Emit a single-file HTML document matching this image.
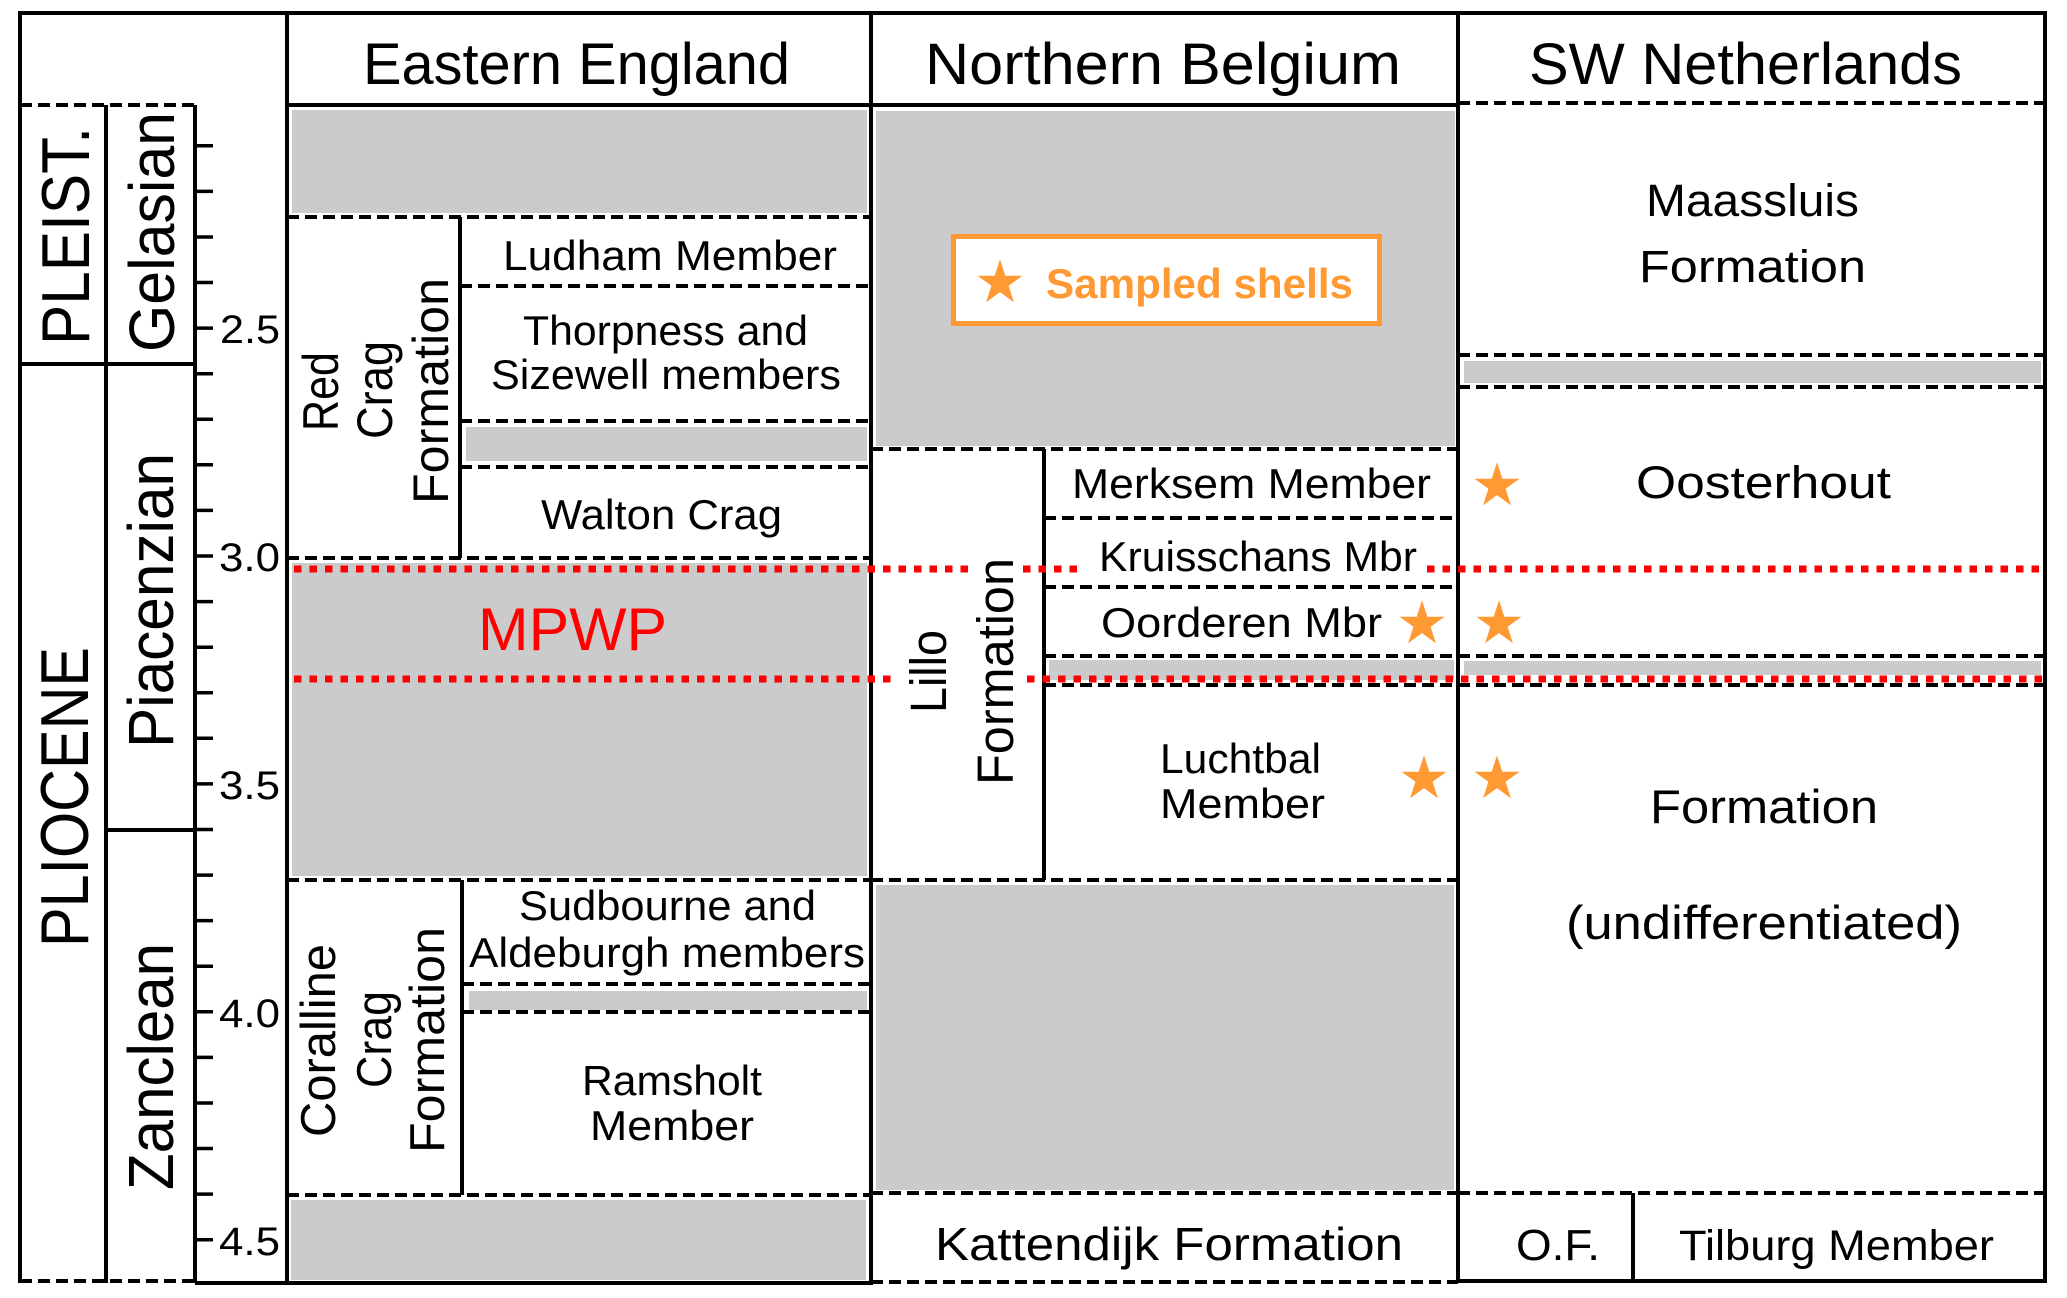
<!DOCTYPE html>
<html>
<head>
<meta charset="utf-8">
<style>
html,body{margin:0;padding:0;background:#fff;}
svg{display:block;}
text{font-family:"Liberation Sans",Arial,sans-serif;fill:#000;}
</style>
</head>
<body>
<svg width="2067" height="1298" viewBox="0 0 2067 1298" xmlns="http://www.w3.org/2000/svg">
<rect x="0" y="0" width="2067" height="1298" fill="#fff"/>

<!-- grey boxes -->
<g fill="#cbcbcb">
<rect x="292" y="110" width="575" height="103"/>
<rect x="466" y="427" width="401" height="34"/>
<rect x="292" y="563" width="575" height="313"/>
<rect x="469" y="991" width="398" height="19"/>
<rect x="291" y="1200" width="575" height="80"/>
<rect x="876" y="111" width="579" height="335"/>
<rect x="1049" y="660" width="405" height="20"/>
<rect x="876" y="885" width="578" height="305"/>
<rect x="1464" y="361" width="577" height="22"/>
<rect x="1464" y="661" width="577" height="14"/>
</g>

<!-- dashed lines -->
<g stroke="#000" stroke-width="4" stroke-dasharray="12 6" fill="none">
<path d="M20,105H195"/>
<path d="M20,1281H195"/>
<path d="M1458,103H2045"/>
<path d="M287,217H871"/>
<path d="M460,286H869"/>
<path d="M460,421H869"/>
<path d="M460,467H869"/>
<path d="M287,558H871"/>
<path d="M287,880H871"/>
<path d="M462,984H869"/>
<path d="M462,1012H869"/>
<path d="M287,1195H871"/>
<path d="M871,449H1458"/>
<path d="M1044,518H1456"/>
<path d="M1044,587H1456"/>
<path d="M1044,656H1458"/>
<path d="M1044,685H1458"/>
<path d="M871,880H1458"/>
<path d="M871,1193H1458"/>
<path d="M871,1282H1458"/>
<path d="M1458,355H2045"/>
<path d="M1458,387H2045"/>
<path d="M1458,656H2045"/>
<path d="M1458,685H2045"/>
<path d="M1458,1193H2045"/>
</g>

<!-- solid lines -->
<g stroke="#000" stroke-width="4" fill="none">
<path d="M18,13H2047"/>
<path d="M20,13V1283"/>
<path d="M106,105V1283"/>
<path d="M195,105V1283"/>
<path d="M287,13V1285"/>
<path d="M871,13V1285"/>
<path d="M1458,13V1283"/>
<path d="M2045,13V1283"/>
<path d="M287,105H1458"/>
<path d="M20,364H195"/>
<path d="M106,830H195"/>
<path d="M195,1283H871"/>
<path d="M1458,1281H2047"/>
<path d="M460,217V558"/>
<path d="M462,880V1195"/>
<path d="M1044,449V880"/>
<path d="M1633,1193V1283"/>
</g>

<!-- ticks -->
<g stroke="#000" stroke-width="3.5">
<path d="M195,145.8H213M195,191.4H213M195,237H213M195,282.5H213M195,328.1H213M195,373.7H213M195,419.3H213M195,464.8H213M195,510.4H213M195,556H213M195,601.6H213M195,647.2H213M195,692.7H213M195,738.3H213M195,783.9H213M195,829.5H213M195,875.1H213M195,920.6H213M195,966.2H213M195,1011.8H213M195,1057.4H213M195,1103H213M195,1148.5H213M195,1194.1H213M195,1239.7H213"/>
</g>

<!-- red dotted MPWP lines -->
<g stroke="#ff0000" stroke-width="7" stroke-dasharray="7.5 8" fill="none">
<path d="M294,569H974"/>
<path d="M1023,569H1082"/>
<path d="M1427,569H2045"/>
<path d="M294,679H893"/>
<path d="M1027,679H2045"/>
</g>

<!-- scale labels -->
<g font-size="40">
<text x="220" y="343" textLength="60" lengthAdjust="spacingAndGlyphs">2.5</text>
<text x="219" y="571" textLength="61" lengthAdjust="spacingAndGlyphs">3.0</text>
<text x="219" y="799" textLength="61" lengthAdjust="spacingAndGlyphs">3.5</text>
<text x="219" y="1027" textLength="61" lengthAdjust="spacingAndGlyphs">4.0</text>
<text x="219" y="1255" textLength="61" lengthAdjust="spacingAndGlyphs">4.5</text>
</g>

<!-- epoch / stage rotated labels -->
<text transform="translate(89,345) rotate(-90)" font-size="68" textLength="218" lengthAdjust="spacingAndGlyphs">PLEIST.</text>
<text transform="translate(88,947) rotate(-90)" font-size="68" textLength="300" lengthAdjust="spacingAndGlyphs">PLIOCENE</text>
<text transform="translate(174,352) rotate(-90)" font-size="64" textLength="240" lengthAdjust="spacingAndGlyphs">Gelasian</text>
<text transform="translate(173,748) rotate(-90)" font-size="64" textLength="295" lengthAdjust="spacingAndGlyphs">Piacenzian</text>
<text transform="translate(173,1190) rotate(-90)" font-size="64" textLength="247" lengthAdjust="spacingAndGlyphs">Zanclean</text>

<!-- headers -->
<g font-size="58">
<text x="363" y="84" textLength="427" lengthAdjust="spacingAndGlyphs">Eastern England</text>
<text x="925" y="84" textLength="476" lengthAdjust="spacingAndGlyphs">Northern Belgium</text>
<text x="1529" y="84" textLength="433" lengthAdjust="spacingAndGlyphs">SW Netherlands</text>
</g>

<!-- Eastern England -->
<g font-size="42">
<text x="503" y="270" textLength="334" lengthAdjust="spacingAndGlyphs">Ludham Member</text>
<text x="523" y="345" textLength="285" lengthAdjust="spacingAndGlyphs">Thorpness and</text>
<text x="491" y="389" textLength="350" lengthAdjust="spacingAndGlyphs">Sizewell members</text>
<text x="541" y="529" textLength="241" lengthAdjust="spacingAndGlyphs">Walton Crag</text>
<text x="519" y="920" textLength="297" lengthAdjust="spacingAndGlyphs">Sudbourne and</text>
<text x="469" y="967" textLength="396" lengthAdjust="spacingAndGlyphs">Aldeburgh members</text>
<text x="582" y="1095" textLength="180" lengthAdjust="spacingAndGlyphs">Ramsholt</text>
<text x="590" y="1140" textLength="164" lengthAdjust="spacingAndGlyphs">Member</text>
</g>
<text x="478" y="650" font-size="60" textLength="189" lengthAdjust="spacingAndGlyphs" style="fill:#ff0000">MPWP</text>

<text transform="translate(338,431) rotate(-90)" font-size="50" textLength="79" lengthAdjust="spacingAndGlyphs">Red</text>
<text transform="translate(392,439) rotate(-90)" font-size="50" textLength="98" lengthAdjust="spacingAndGlyphs">Crag</text>
<text transform="translate(448,504) rotate(-90)" font-size="50" textLength="226" lengthAdjust="spacingAndGlyphs">Formation</text>

<text transform="translate(335,1137) rotate(-90)" font-size="49" textLength="193" lengthAdjust="spacingAndGlyphs">Coralline</text>
<text transform="translate(391,1088) rotate(-90)" font-size="49" textLength="97" lengthAdjust="spacingAndGlyphs">Crag</text>
<text transform="translate(444,1153) rotate(-90)" font-size="49" textLength="226" lengthAdjust="spacingAndGlyphs">Formation</text>

<!-- Northern Belgium -->
<rect x="953.5" y="236.5" width="426" height="87" fill="#fff" stroke="#ff9933" stroke-width="5"/>
<polygon fill="#ff9933" transform="translate(1000,283)" points="0,-23.7 5.3,-7.3 22.5,-7.3 8.6,2.8 13.9,19.2 0,9.1 -13.9,19.2 -8.6,2.8 -22.5,-7.3 -5.3,-7.3"/>
<text x="1046" y="298" font-size="42" font-weight="bold" textLength="307" lengthAdjust="spacingAndGlyphs" style="fill:#ff9933">Sampled shells</text>

<g font-size="42">
<text x="1072" y="498" textLength="359" lengthAdjust="spacingAndGlyphs">Merksem Member</text>
<text x="1099" y="571" textLength="318" lengthAdjust="spacingAndGlyphs">Kruisschans Mbr</text>
<text x="1101" y="637" textLength="281" lengthAdjust="spacingAndGlyphs">Oorderen Mbr</text>
<text x="1160" y="773" textLength="161" lengthAdjust="spacingAndGlyphs">Luchtbal</text>
<text x="1160" y="818" textLength="165" lengthAdjust="spacingAndGlyphs">Member</text>
</g>
<text x="935" y="1260" font-size="46" textLength="468" lengthAdjust="spacingAndGlyphs">Kattendijk Formation</text>
<text transform="translate(946,713) rotate(-90)" font-size="51" textLength="83" lengthAdjust="spacingAndGlyphs">Lillo</text>
<text transform="translate(1013,785) rotate(-90)" font-size="51" textLength="227" lengthAdjust="spacingAndGlyphs">Formation</text>

<!-- SW Netherlands -->
<g font-size="45">
<text x="1646" y="216" textLength="213" lengthAdjust="spacingAndGlyphs">Maassluis</text>
<text x="1639" y="282" textLength="227" lengthAdjust="spacingAndGlyphs">Formation</text>
<text x="1636" y="498" textLength="255" lengthAdjust="spacingAndGlyphs">Oosterhout</text>
</g>
<g font-size="47">
<text x="1650" y="823" textLength="228" lengthAdjust="spacingAndGlyphs">Formation</text>
<text x="1566" y="939" textLength="396" lengthAdjust="spacingAndGlyphs">(undifferentiated)</text>
</g>
<text x="1516" y="1260" font-size="44" textLength="84" lengthAdjust="spacingAndGlyphs">O.F.</text>
<text x="1679" y="1260" font-size="43" textLength="315" lengthAdjust="spacingAndGlyphs">Tilburg Member</text>

<!-- stars -->
<g fill="#ff9933">
<polygon transform="translate(1422,624)" points="0,-23.7 5.3,-7.3 22.5,-7.3 8.6,2.8 13.9,19.2 0,9.1 -13.9,19.2 -8.6,2.8 -22.5,-7.3 -5.3,-7.3"/>
<polygon transform="translate(1424,779)" points="0,-23.7 5.3,-7.3 22.5,-7.3 8.6,2.8 13.9,19.2 0,9.1 -13.9,19.2 -8.6,2.8 -22.5,-7.3 -5.3,-7.3"/>
<polygon transform="translate(1497,486)" points="0,-23.7 5.3,-7.3 22.5,-7.3 8.6,2.8 13.9,19.2 0,9.1 -13.9,19.2 -8.6,2.8 -22.5,-7.3 -5.3,-7.3"/>
<polygon transform="translate(1499,624)" points="0,-23.7 5.3,-7.3 22.5,-7.3 8.6,2.8 13.9,19.2 0,9.1 -13.9,19.2 -8.6,2.8 -22.5,-7.3 -5.3,-7.3"/>
<polygon transform="translate(1497,779)" points="0,-23.7 5.3,-7.3 22.5,-7.3 8.6,2.8 13.9,19.2 0,9.1 -13.9,19.2 -8.6,2.8 -22.5,-7.3 -5.3,-7.3"/>
</g>
</svg>
</body>
</html>
